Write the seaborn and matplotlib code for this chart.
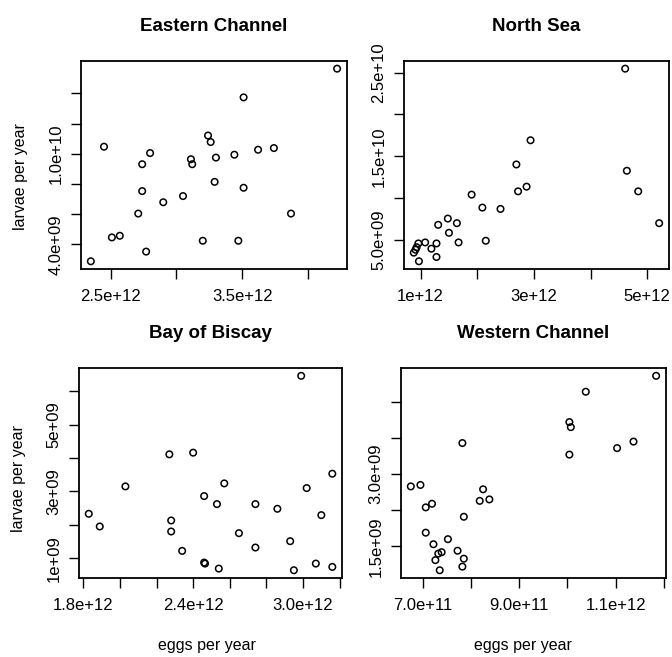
import matplotlib
matplotlib.use('Agg')
import matplotlib.pyplot as plt
import seaborn as sns

# -----------------------------
# 1. Data (eggs per year vs larvae per year, by region)
# -----------------------------
regions = ['Eastern Channel', 'North Sea', 'Bay of Biscay', 'Western Channel']

ec_eggs = [4.22e12, 3.51e12, 2.45e12, 2.80e12, 2.74e12, 3.24e12, 3.26e12, 3.11e12, 3.12e12,
           3.30e12, 3.44e12, 3.62e12, 3.74e12, 3.29e12, 3.51e12, 2.74e12, 3.05e12, 2.90e12,
           2.71e12, 3.87e12, 2.51e12, 2.57e12, 3.20e12, 3.47e12, 2.77e12, 2.35e12]
ec_larvae = [15.64e9, 13.74e9, 10.47e9, 10.05e9, 9.31e9, 11.21e9, 10.78e9, 9.64e9, 9.31e9,
             9.75e9, 9.94e9, 10.27e9, 10.38e9, 8.14e9, 7.75e9, 7.53e9, 7.20e9, 6.79e9,
             6.04e9, 6.04e9, 4.46e9, 4.57e9, 4.24e9, 4.24e9, 3.52e9, 2.88e9]

ns_eggs = [4.61e12, 4.64e12, 4.84e12, 5.21e12, 2.94e12, 2.69e12, 2.87e12, 2.72e12, 1.90e12,
           2.09e12, 2.41e12, 1.48e12, 1.31e12, 1.64e12, 1.50e12, 1.67e12, 2.15e12, 1.28e12,
           1.19e12, 1.28e12, 1.08e12, 0.96e12, 0.93e12, 0.91e12, 0.88e12, 0.97e12]
ns_larvae = [25.47e9, 13.28e9, 10.82e9, 7.02e9, 16.92e9, 14.03e9, 11.38e9, 10.82e9, 10.43e9,
             8.88e9, 8.72e9, 7.57e9, 6.82e9, 7.02e9, 5.87e9, 4.72e9, 4.92e9, 4.60e9,
             3.97e9, 2.98e9, 4.72e9, 4.60e9, 4.15e9, 3.85e9, 3.50e9, 2.47e9]

bb_eggs = [2.99e12, 2.27e12, 2.40e12, 2.03e12, 2.57e12, 2.46e12, 2.53e12, 2.74e12, 2.86e12,
           3.02e12, 3.16e12, 3.10e12, 1.83e12, 1.89e12, 2.28e12, 2.28e12, 2.34e12, 2.65e12,
           2.74e12, 2.93e12, 2.46e12, 2.465e12, 2.54e12, 2.95e12, 3.07e12, 3.16e12]
bb_larvae = [6.46e9, 4.11e9, 4.16e9, 3.15e9, 3.24e9, 2.86e9, 2.62e9, 2.62e9, 2.48e9,
             3.10e9, 3.53e9, 2.29e9, 2.33e9, 1.95e9, 2.13e9, 1.80e9, 1.22e9, 1.75e9,
             1.32e9, 1.51e9, 0.87e9, 0.84e9, 0.69e9, 0.64e9, 0.84e9, 0.74e9]

wc_eggs = [11.84e11, 10.38e11, 10.04e11, 10.07e11, 10.04e11, 11.03e11, 11.37e11, 7.82e11, 6.75e11,
           6.95e11, 8.25e11, 8.38e11, 8.18e11, 7.06e11, 7.19e11, 7.85e11, 7.06e11, 7.22e11,
           7.52e11, 7.26e11, 7.32e11, 7.39e11, 7.35e11, 7.72e11, 7.85e11, 7.82e11]
wc_larvae = [3.86e9, 3.64e9, 3.22e9, 3.15e9, 2.77e9, 2.86e9, 2.95e9, 2.93e9, 2.33e9,
             2.35e9, 2.29e9, 2.15e9, 2.13e9, 2.04e9, 2.09e9, 1.91e9, 1.69e9, 1.53e9,
             1.60e9, 1.31e9, 1.40e9, 1.42e9, 1.17e9, 1.44e9, 1.33e9, 1.22e9]

# tick positions + labels (R drops labels that would overlap)
ec_xticks = [2.5e12, 3.0e12, 3.5e12, 4.0e12]
ec_xlabels = ['2.5e+12', '', '3.5e+12', '']
ec_yticks = [4e9, 6e9, 8e9, 1.0e10, 1.2e10, 1.4e10]
ec_ylabels = ['4.0e+09', '', '', '1.0e+10', '', '']

ns_xticks = [1e12, 2e12, 3e12, 4e12, 5e12]
ns_xlabels = ['1e+12', '', '3e+12', '', '5e+12']
ns_yticks = [5e9, 1.0e10, 1.5e10, 2.0e10, 2.5e10]
ns_ylabels = ['5.0e+09', '', '1.5e+10', '', '2.5e+10']

bb_xticks = [1.8e12, 2.0e12, 2.2e12, 2.4e12, 2.6e12, 2.8e12, 3.0e12, 3.2e12]
bb_xlabels = ['1.8e+12', '', '', '2.4e+12', '', '', '3.0e+12', '']
bb_yticks = [1e9, 2e9, 3e9, 4e9, 5e9, 6e9]
bb_ylabels = ['1e+09', '', '3e+09', '', '5e+09', '']

wc_xticks = [7e11, 8e11, 9e11, 1.0e12, 1.1e12, 1.2e12]
wc_xlabels = ['7.0e+11', '', '9.0e+11', '', '1.1e+12', '']
wc_yticks = [1.5e9, 2.0e9, 2.5e9, 3.0e9, 3.5e9]
wc_ylabels = ['1.5e+09', '', '3.0e+09', '', '']

# -----------------------------
# 2. Style (base-R look)
# -----------------------------
sns.set_style('white')
plt.rcParams['font.family'] = ['Liberation Sans', 'DejaVu Sans']
plt.rcParams['text.color'] = 'black'
plt.rcParams['axes.labelcolor'] = 'black'

fig = plt.figure(figsize=(6.72, 6.57), dpi=100)

# axes boxes [left, bottom, width, height] in figure fractions
boxes = [
    [0.1205, 0.5906, 0.3958, 0.3166],
    [0.6012, 0.5906, 0.3943, 0.3166],
    [0.1176, 0.1202, 0.3914, 0.3196],
    [0.5967, 0.1202, 0.3943, 0.3196],
]
panels = [
    (ec_eggs, ec_larvae, ec_xticks, ec_xlabels, ec_yticks, ec_ylabels),
    (ns_eggs, ns_larvae, ns_xticks, ns_xlabels, ns_yticks, ns_ylabels),
    (bb_eggs, bb_larvae, bb_xticks, bb_xlabels, bb_yticks, bb_ylabels),
    (wc_eggs, wc_larvae, wc_xticks, wc_xlabels, wc_yticks, wc_ylabels),
]

for i, (name, box, panel) in enumerate(zip(regions, boxes, panels)):
    eggs, larvae, xt, xl, yt, yl = panel
    ax = fig.add_axes(box)
    sns.scatterplot(x=eggs, y=larvae, ax=ax, marker='o', s=22,
                    facecolor='none', edgecolor='black', linewidth=1.1)

    ax.set_xticks(xt)
    ax.set_xticklabels(xl)
    ax.set_yticks(yt)
    ax.set_yticklabels(yl)

    # R-style 4% padding
    xr = max(eggs) - min(eggs)
    yr = max(larvae) - min(larvae)
    ax.set_xlim(min(eggs) - 0.04 * xr, max(eggs) + 0.04 * xr)
    ax.set_ylim(min(larvae) - 0.04 * yr, max(larvae) + 0.04 * yr)

    ax.tick_params(axis='both', direction='out', length=7.2, width=1.0,
                   color='black', labelsize=12, labelcolor='black', bottom=True, left=True)
    ax.tick_params(axis='x', pad=7)
    ax.tick_params(axis='y', pad=5.5)
    for lab in ax.get_yticklabels():
        lab.set_rotation(90)
        lab.set_va('center')

    for sp in ax.spines.values():
        sp.set_visible(True)
        sp.set_color('black')
        sp.set_linewidth(1.3)

    ax.set_title(name, fontsize=13.5, fontweight='bold', pad=21.6, color='black')

    if i in (0, 2):
        ax.set_ylabel('larvae per year', fontsize=11.5, color='black')
        ax.yaxis.set_label_coords(-0.20, 0.445 if i == 0 else 0.476)
    if i in (2, 3):
        ax.set_xlabel('eggs per year', fontsize=11.5, color='black')
        ax.xaxis.set_label_coords(0.487 if i == 2 else 0.46, -0.285)

plt.savefig('out.png', dpi=100)
